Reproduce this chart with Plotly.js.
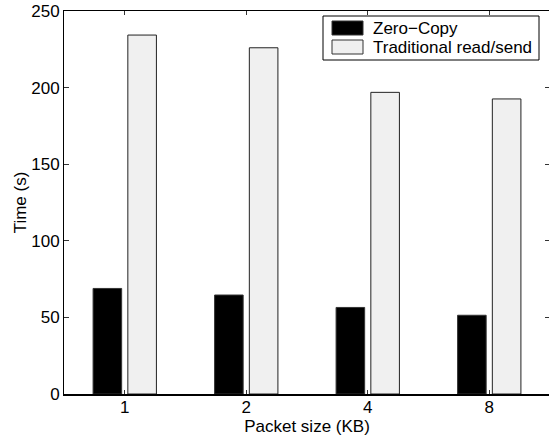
<!DOCTYPE html>
<html>
<head>
<meta charset="utf-8">
<script src="https://cdn.plot.ly/plotly-3.0.1.min.js"></script>
<style>
html,body{margin:0;padding:0;overflow:hidden;background:#fff;}
#chart{width:552px;height:439px;}
</style>
</head>
<body>
<div id="chart"></div>
<script>
// ---- data ----
var categories = ['1', '2', '4', '8'];
var seriesNames = ['Zero\u2212Copy', 'Traditional read/send'];
var zeroCopy = [68.9, 64.6, 56.5, 51.4];
var traditional = [234.3, 226.0, 196.9, 192.6];
var yTicks = [0, 50, 100, 150, 200, 250];
var xTitle = 'Packet size (KB)';
var yTitle = 'Time (s)';

// ---- layout geometry (pixels) ----
var W = 552, H = 439;
var M = {l: 64, r: 2, t: 11, b: 45};
var PW = W - M.l - M.r, PH = H - M.t - M.b;
function px(x) { return (x - M.l) / PW; }
function py(y) { return (H - M.b - y) / PH; }

var font = {family: 'Liberation Sans, Arial, Helvetica, sans-serif', size: 17, color: '#000'};
var colors = ['#000000', '#f0f0f0'];

var traces = [
  {type: 'bar', name: seriesNames[0], x: categories, y: zeroCopy,
   marker: {color: colors[0], line: {color: '#333', width: 1}}, showlegend: false, hoverinfo: 'x+y'},
  {type: 'bar', name: seriesNames[1], x: categories, y: traditional,
   marker: {color: colors[1], line: {color: '#222', width: 1}}, showlegend: false, hoverinfo: 'x+y'}
];

// custom MATLAB-style legend
var lg = {x0: 323, x1: 539, y0: 16, y1: 60};
var sw = {x0: 332, x1: 363, rows: [[21, 35], [40, 54]]};
var shapes = [
  {type: 'rect', xref: 'paper', yref: 'paper', x0: px(lg.x0), x1: px(lg.x1), y0: py(lg.y1), y1: py(lg.y0),
   line: {color: '#000', width: 1}, fillcolor: '#fff', layer: 'above'}
];
var annotations = [];
for (var i = 0; i < seriesNames.length; i++) {
  var r = sw.rows[i];
  shapes.push({type: 'rect', xref: 'paper', yref: 'paper', x0: px(sw.x0), x1: px(sw.x1), y0: py(r[1]), y1: py(r[0]),
    line: {color: '#333', width: 1}, fillcolor: colors[i], layer: 'above'});
  annotations.push({xref: 'paper', yref: 'paper', x: px(371), y: py((r[0] + r[1]) / 2), xanchor: 'left', yanchor: 'middle',
    text: seriesNames[i], showarrow: false, font: font});
}

var layout = {
  width: W, height: H,
  margin: M,
  paper_bgcolor: '#fff', plot_bgcolor: '#fff',
  font: font,
  barmode: 'group', bargap: 0.428, bargroupgap: 0.178,
  xaxis: {
    type: 'category', range: [-0.5, 3.5],
    showline: true, linecolor: '#000', linewidth: 1.5, mirror: 'allticks',
    ticks: 'inside', ticklen: 4, tickcolor: '#333', tickwidth: 1,
    ticklabelstandoff: -3,
    showgrid: false, zeroline: false, tickfont: font,
    title: {text: xTitle, font: font, standoff: 0}
  },
  yaxis: {
    range: [0, 250], tickvals: yTicks, ticktext: yTicks.map(String),
    showline: true, linecolor: '#000', linewidth: 1, mirror: 'allticks',
    ticks: 'inside', ticklen: 5, tickcolor: '#333', tickwidth: 1,
    showgrid: false, zeroline: false, tickfont: font,
    title: {text: yTitle, font: font, standoff: 0}
  },
  shapes: shapes,
  annotations: annotations
};

Plotly.newPlot('chart', traces, layout, {displayModeBar: false, staticPlot: true});
</script>
</body>
</html>
